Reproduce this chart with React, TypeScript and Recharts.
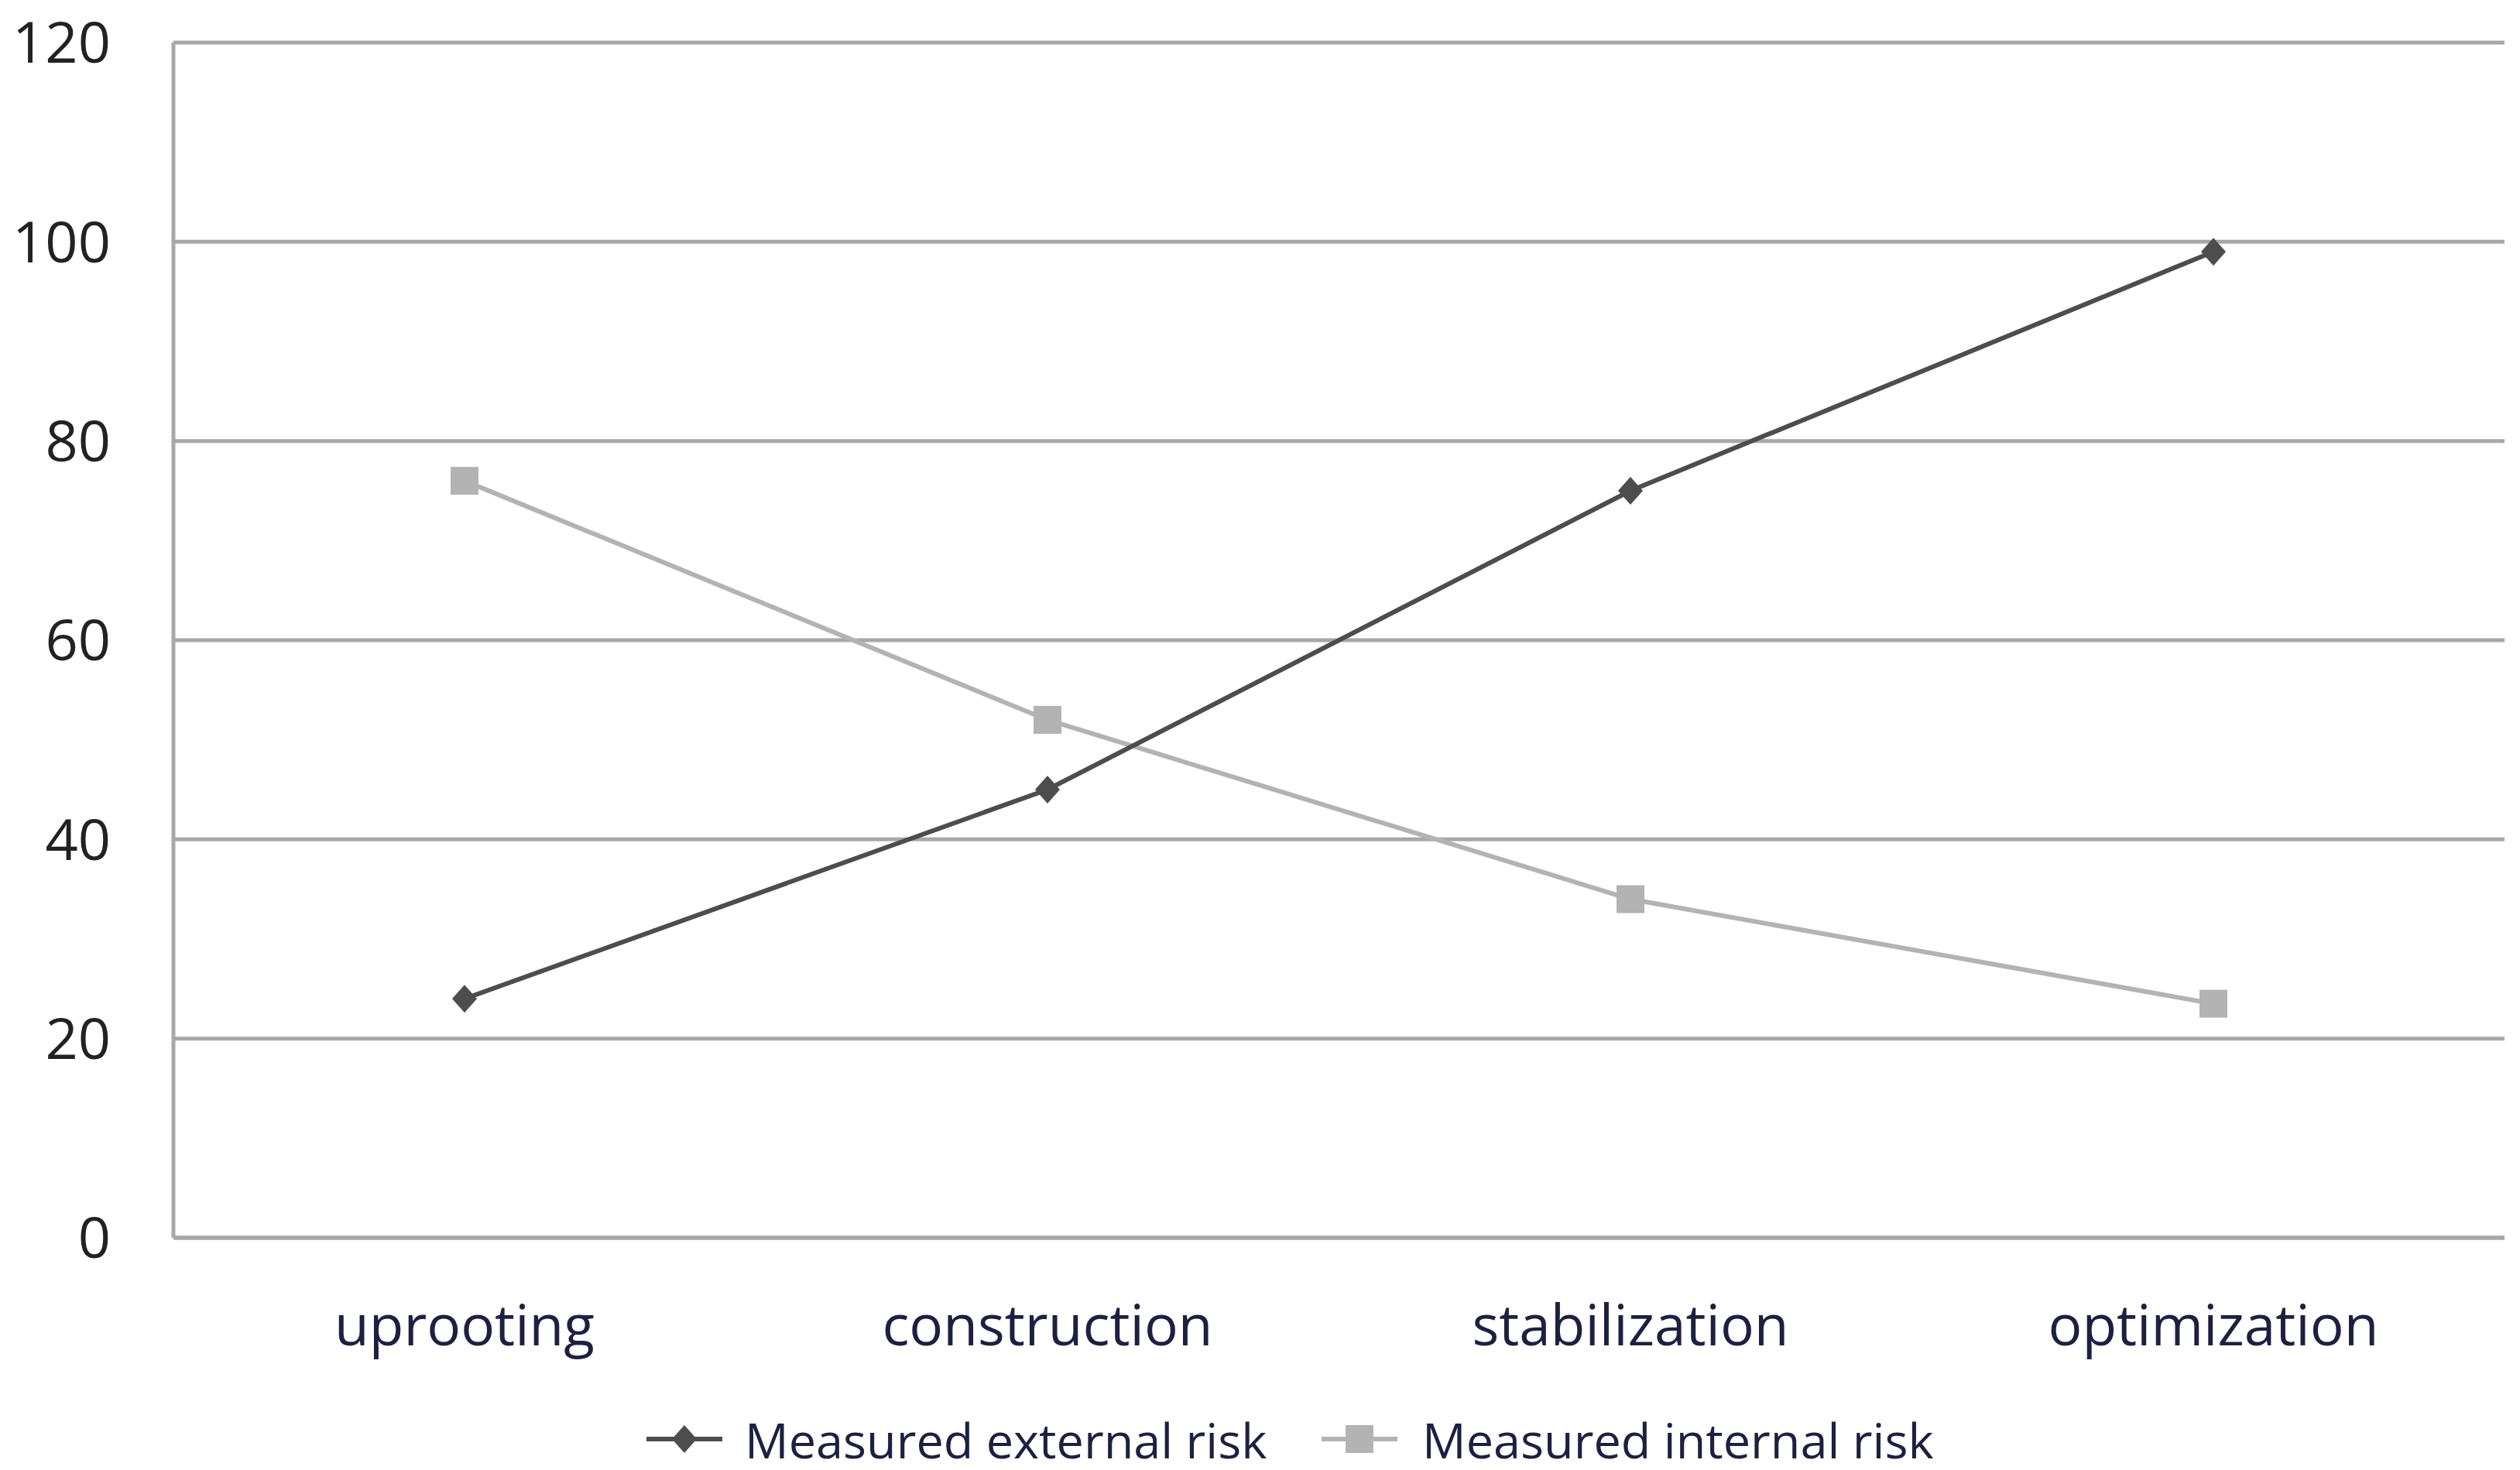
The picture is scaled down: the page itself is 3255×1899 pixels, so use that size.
import { LineChart, Line, XAxis, YAxis, CartesianGrid, Legend } from 'recharts';

const phases = ['uprooting', 'construction', 'stabilization', 'optimization'];
const externalRisk = [24, 45, 75, 99];
const internalRisk = [76, 52, 34, 23.5];
const yTicks = [0, 20, 40, 60, 80, 100, 120];

const data = phases.map((phase, i) => ({
  phase,
  external: externalRisk[i],
  internal: internalRisk[i],
}));

const W = 3255;
const H = 1899;
const FONT = '"Open Sans", "Noto Sans", sans-serif';
const DARK = '#4d4d4d';
const LIGHT = '#b3b3b3';
const GRID = '#a8a8a8';

function Diamond(props: any) {
  const { cx, cy, key } = props;
  if (cx == null || cy == null) return null;
  return (
    <polygon
      key={key}
      points={`${cx},${cy - 18} ${cx + 16},${cy} ${cx},${cy + 18} ${cx - 16},${cy}`}
      fill={DARK}
    />
  );
}

function Square(props: any) {
  const { cx, cy, key } = props;
  if (cx == null || cy == null) return null;
  return <rect key={key} x={cx - 18} y={cy - 18} width={36} height={36} fill={LIGHT} />;
}

function LegendContent() {
  return (
    <svg width={W} height={90} style={{ display: 'block', overflow: 'visible' }}>
      <line x1={835} x2={933} y1={40} y2={40} stroke={DARK} strokeWidth={6} />
      <polygon points="884,22 900,40 884,58 868,40" fill={DARK} />
      <text x={962} y={40} dominantBaseline="central" fontSize={63} fontFamily={FONT} fill="#1e2040">
        Measured external risk
      </text>
      <line x1={1707} x2={1805} y1={40} y2={40} stroke={LIGHT} strokeWidth={6} />
      <rect x={1738} y={22} width={36} height={36} fill={LIGHT} />
      <text x={1837} y={40} dominantBaseline="central" fontSize={63} fontFamily={FONT} fill="#1e2040">
        Measured internal risk
      </text>
    </svg>
  );
}

export default function App() {
  return (
    <div style={{ position: 'absolute', left: 0, top: 0, width: W, height: H, background: '#fff' }}>
      <LineChart width={W} height={H} data={data} margin={{ top: 55, right: 20, left: 0, bottom: -10 }}>
        <CartesianGrid vertical={false} stroke={GRID} strokeWidth={5} />
        <XAxis
          dataKey="phase"
          height={220}
          padding={{ left: 376, right: 376 }}
          axisLine={{ stroke: GRID, strokeWidth: 5 }}
          tickLine={false}
          tickSize={0}
          tickMargin={87}
          tick={{ fill: '#1e2040', fontSize: 73, fontFamily: FONT }}
        />
        <YAxis
          domain={[0, 120]}
          ticks={yTicks}
          width={224}
          axisLine={{ stroke: GRID, strokeWidth: 5 }}
          tickLine={false}
          tickSize={0}
          tickMargin={81}
          tick={{ fill: '#222222', fontSize: 74, fontFamily: FONT }}
        />
        <Legend
          verticalAlign="bottom"
          height={90}
          wrapperStyle={{ left: 0, width: W }}
          content={<LegendContent />}
        />
        <Line
          type="linear"
          dataKey="internal"
          name="Measured internal risk"
          stroke={LIGHT}
          strokeWidth={6}
          dot={Square}
          activeDot={false}
          isAnimationActive={false}
        />
        <Line
          type="linear"
          dataKey="external"
          name="Measured external risk"
          stroke={DARK}
          strokeWidth={6}
          dot={Diamond}
          activeDot={false}
          isAnimationActive={false}
        />
      </LineChart>
    </div>
  );
}
